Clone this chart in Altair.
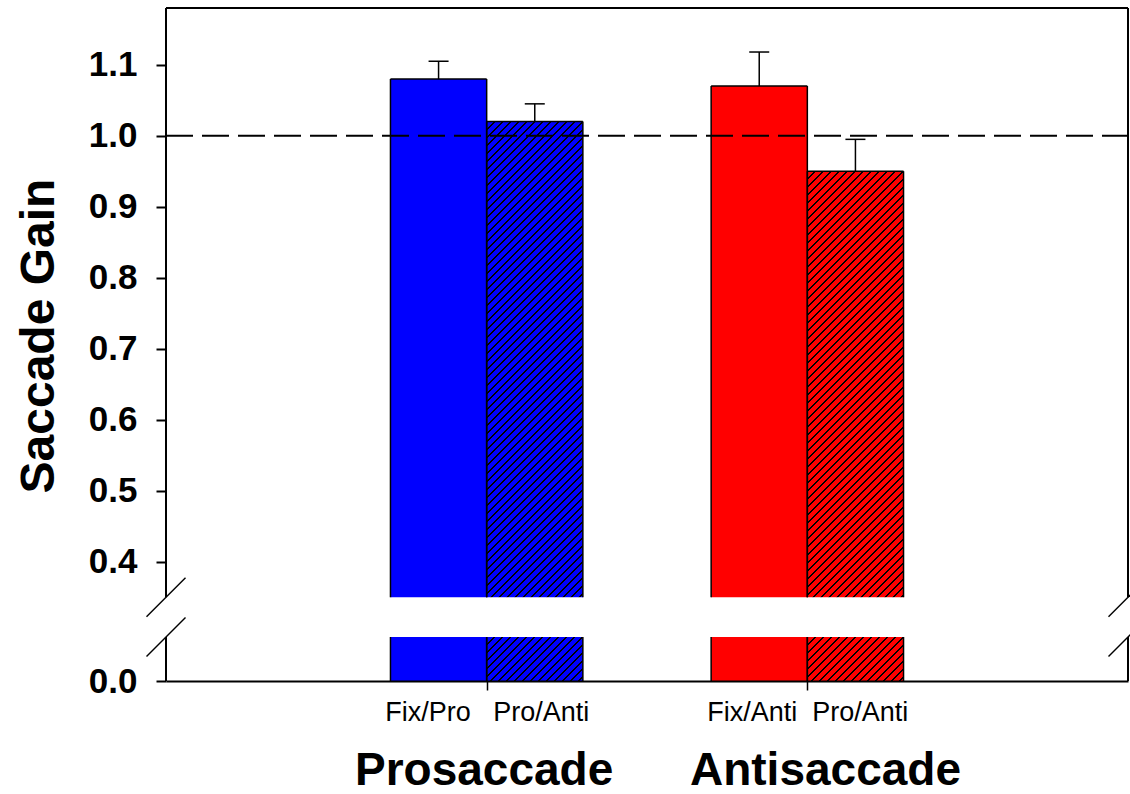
import altair as alt
import pandas as pd

# ---------------- data ----------------
groups = ["Prosaccade", "Prosaccade", "Antisaccade", "Antisaccade"]
conditions = ["Fix/Pro", "Pro/Anti", "Fix/Anti", "Pro/Anti"]
means = [1.08, 1.02, 1.07, 0.95]
errors = [0.025, 0.025, 0.048, 0.045]
bar_colors = ["#0000FF", "#0000FF", "#FF0000", "#FF0000"]
hatched = [False, True, False, True]

group_names = ["Prosaccade", "Antisaccade"]
group_pos = [1, 2]
NB = "\u00a0"
tick_labels = ["Fix/Pro" + NB * 3 + "Pro/Anti", "Fix/Anti" + NB * 2 + "Pro/Anti"]
x_title = "Prosaccade" + NB * 6 + "Antisaccade"
y_title = "Saccade Gain"
y_ticks = [0.0, 0.4, 0.5, 0.6, 0.7, 0.8, 0.9, 1.0, 1.1]
reference_gain = 1.0

# ---------------- layout / style ----------------
BREAK_LO = 0.062
BREAK_HI = 0.35
Y_TOP = 1.18
X_MAX = 3
BAR_W = 0.3
W, H = 962, 673
PX = 710.0  # pixels per gain unit on both pieces of the broken axis
FONT = "Liberation Sans"

x_scale = alt.Scale(domain=[0, X_MAX], nice=False, zero=False)
y_scale = alt.Scale(
    domain=[0, BREAK_LO, BREAK_HI, Y_TOP],
    range=[H, H - BREAK_LO * PX, (Y_TOP - BREAK_HI) * PX, 0],
    nice=False,
    zero=False,
)

# ---------------- table ----------------
slots, seen = [], {}
for g in groups:
    slots.append(seen.get(g, 0))
    seen[g] = seen.get(g, 0) + 1
x0 = [group_pos[group_names.index(g)] - BAR_W + s * BAR_W for g, s in zip(groups, slots)]
df = pd.DataFrame({
    "idx": list(range(len(groups))),
    "group": groups,
    "condition": conditions,
    "mean": means,
    "err": errors,
    "color": bar_colors,
    "hatched": hatched,
    "x0": x0,
})
df["x1"] = df["x0"] + BAR_W
df["xc"] = df["x0"] + BAR_W / 2
df["hi"] = df["mean"] + df["err"]
df["zero"] = 0.0
df["blo"] = BREAK_LO
df["bhi"] = BREAK_HI

ref = pd.DataFrame({"xa": [0], "xb": [X_MAX], "y": [reference_gain]})
topline = pd.DataFrame({"xa": [0], "xb": [X_MAX], "y": [Y_TOP]})


def hatch_fill(base, w, h, period=8.0, lw=2.2, ink="black"):
    total = w + h
    stops = [{"offset": 0, "color": base}]
    k = 1
    while True:
        c = k * period
        a = (c - lw / 2) / total
        b = (c + lw / 2) / total
        if a >= 1:
            break
        b = min(b, 1.0)
        stops += [
            {"offset": round(a, 6), "color": base},
            {"offset": round(a, 6), "color": ink},
            {"offset": round(b, 6), "color": ink},
            {"offset": round(b, 6), "color": base},
        ]
        k += 1
    stops.append({"offset": 1, "color": base})
    d = w * w + h * h
    return {
        "gradient": "linear",
        "x1": 0, "y1": 0,
        "x2": total * w / d, "y2": total * h / d,
        "stops": stops,
    }


x_axis = alt.Axis(
    values=group_pos,
    labelExpr=f"datum.value == {group_pos[0]} ? '{tick_labels[0]}' : '{tick_labels[1]}'",
    grid=False, domain=True, domainColor="black", domainWidth=2,
    ticks=True, tickSize=9, tickWidth=1.5, tickColor="black",
    labelFont=FONT, labelFontSize=27, labelColor="black", labelPadding=30,
    labelBaseline="alphabetic", labelOverlap=False, labelFlush=False, labelLimit=600,
    title=x_title, titleFont=FONT, titleFontSize=46, titleFontWeight="bold",
    titleColor="black", titleX=491.5, titleY=103, titleAlign="center",
    titleBaseline="alphabetic", titleLimit=1000, zindex=1,
)
y_axis = alt.Axis(
    values=y_ticks, format=".1f", grid=False, domain=False,
    ticks=True, tickSize=10, tickWidth=2, tickColor="black",
    labelFont=FONT, labelFontSize=35, labelFontWeight="bold", labelColor="black",
    labelPadding=19, labelOverlap=False, labelFlush=False,
    title=y_title, titleFont=FONT, titleFontSize=48, titleFontWeight="bold",
    titleColor="black", titleAngle=270, titleX=-113, titleY=327.5,
    titleAlign="center", titleBaseline="alphabetic", titleLimit=1000,
)


def X(field):
    return alt.X(field, scale=x_scale, axis=x_axis)


def Y(field):
    return alt.Y(field, scale=y_scale, axis=y_axis)


layers = []
wpx = BAR_W * W / X_MAX
for i in range(len(df)):
    row = df.iloc[i]
    for seg in ("upper", "lower"):
        if seg == "upper":
            hpx = (row["mean"] - BREAK_HI) * PX
            yf, y2f = "bhi", "mean"
        else:
            hpx = BREAK_LO * PX
            yf, y2f = "zero", "blo"
        fill = hatch_fill(row["color"], wpx, hpx) if row["hatched"] else row["color"]
        layers.append(
            alt.Chart(df).transform_filter(f"datum.idx == {i}")
            .mark_rect(fill=fill, strokeWidth=0)
            .encode(x=X("x0:Q"), x2="x1:Q", y=Y(f"{yf}:Q"), y2=f"{y2f}:Q")
        )

# bar outlines (no edge at the axis break)
edges = alt.Chart(df).transform_fold(["x0", "x1"], as_=["side", "edge"])
for yf, y2f in (("bhi", "mean"), ("zero", "blo")):
    layers.append(
        edges.mark_rule(color="black", strokeWidth=1.5).encode(
            x=X("edge:Q"), y=Y(f"{yf}:Q"), y2=f"{y2f}:Q"
        )
    )
layers.append(
    alt.Chart(df).mark_rule(color="black", strokeWidth=1.5).encode(
        x=X("x0:Q"), x2="x1:Q", y=Y("mean:Q")
    )
)

# error bars
layers.append(
    alt.Chart(df).mark_rule(color="black", strokeWidth=1.5).encode(
        x=X("xc:Q"), y=Y("mean:Q"), y2="hi:Q"
    )
)
layers.append(
    alt.Chart(df).mark_rule(color="black", strokeWidth=1.5, xOffset=-10, x2Offset=10).encode(
        x=X("xc:Q"), x2="xc:Q", y=Y("hi:Q")
    )
)

# dashed reference line at gain 1.0
layers.append(
    alt.Chart(ref).mark_rule(color="black", strokeWidth=2, strokeDash=[27, 9]).encode(
        x=X("xa:Q"), x2="xb:Q", y=Y("y:Q")
    )
)

# frame (broken on left/right)
frame = pd.DataFrame({
    "fx": [0, 0, X_MAX, X_MAX],
    "fy0": [BREAK_HI, 0, BREAK_HI, 0],
    "fy1": [Y_TOP, BREAK_LO, Y_TOP, BREAK_LO],
})
layers.append(
    alt.Chart(frame).mark_rule(color="black", strokeWidth=2).encode(
        x=X("fx:Q"), y=Y("fy0:Q"), y2="fy1:Q"
    )
)
layers.append(
    alt.Chart(topline).mark_rule(color="black", strokeWidth=2).encode(
        x=X("xa:Q"), x2="xb:Q", y=Y("y:Q")
    )
)

# break marks
slashes = pd.DataFrame({
    "sx": [0, 0, X_MAX, X_MAX],
    "sy": [BREAK_HI, BREAK_LO, BREAK_HI, BREAK_LO],
})
layers.append(
    alt.Chart(slashes).mark_rule(
        color="black", strokeWidth=1.5,
        xOffset=-19.5, x2Offset=19.5, yOffset=19.5, y2Offset=-19.5,
    ).encode(x=X("sx:Q"), x2="sx:Q", y=Y("sy:Q"), y2="sy:Q")
)

chart = alt.layer(*layers).properties(
    width=W,
    height=H,
    autosize=alt.AutoSizeParams(type="none"),
    padding={"left": 166, "top": 8, "right": 2, "bottom": 113},
    background="white",
).configure_view(stroke=None)

chart.save("out.html", embed_options={"renderer": "svg", "actions": False})
